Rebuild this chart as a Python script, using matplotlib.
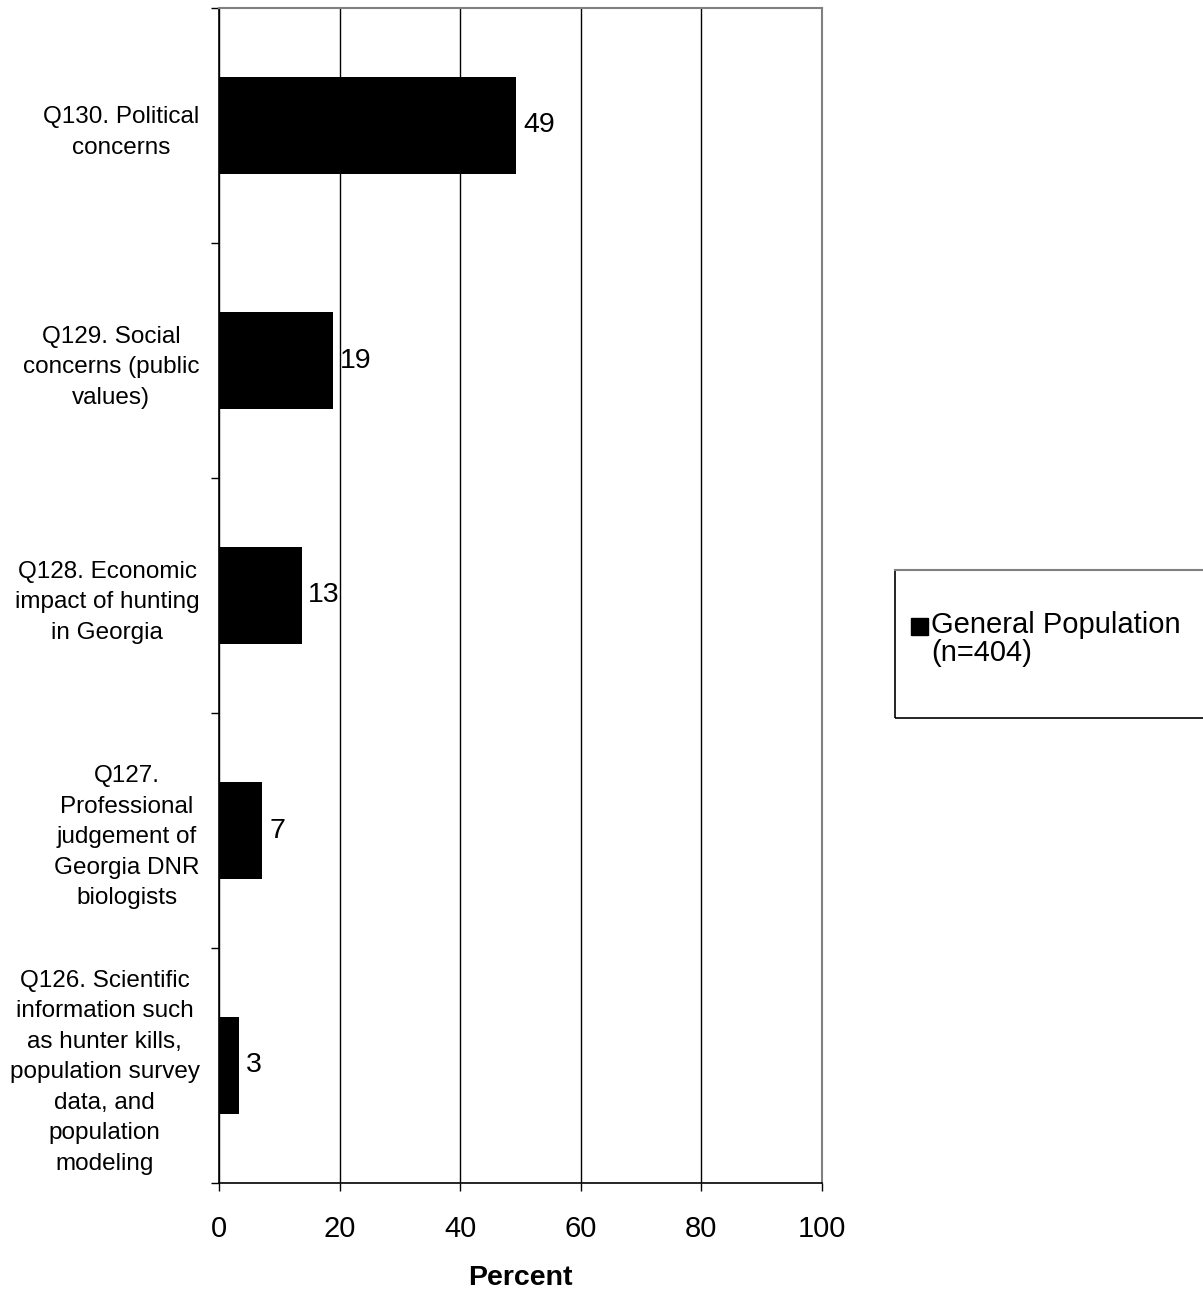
import matplotlib.pyplot as plt
from matplotlib.patches import Rectangle
from matplotlib.lines import Line2D

plt.rcParams['font.family'] = ['Liberation Sans', 'DejaVu Sans']

# Data (bottom to top as drawn)
categories = ['Q126. Scientific\ninformation such\nas hunter kills,\npopulation survey\ndata, and\npopulation\nmodeling',
              'Q127.\nProfessional\njudgement of\nGeorgia DNR\nbiologists',
              'Q128. Economic\nimpact of hunting\nin Georgia',
              'Q129. Social\nconcerns (public\nvalues)',
              'Q130. Political\nconcerns']
values = [3.3, 7.2, 13.7, 18.9, 49.3]
value_labels = ['3', '7', '13', '19', '49']
series_name = 'General Population\n(n=404)'
xticks = [0, 20, 40, 60, 80, 100]

W, H = 1203, 1292
fig = plt.figure(figsize=(W / 100, H / 100), dpi=100)
ax = fig.add_axes([219 / W, 1 - 1183 / H, (822 - 219) / W, (1183 - 8) / H])

pos = list(range(len(categories)))
ax.barh(pos, values, height=0.41, color='black', zorder=3)
for p, v, lab in zip(pos, values, value_labels):
    ax.text(v + 1.1, p, lab, va='center', ha='left', fontsize=20.5, zorder=4)

ax.set_xlim(0, 100)
ax.set_ylim(-0.5, len(categories) - 0.5)
ax.set_xticks(xticks)
ax.set_xticklabels([str(t) for t in xticks], fontsize=21)
ax.tick_params(axis='x', length=6, width=1, pad=17)
ax.set_yticks(pos)
ax.set_yticklabels(categories, fontsize=17.5, linespacing=1.5)
for t in ax.get_yticklabels():
    t.set_multialignment('center')
ax.tick_params(axis='y', length=0, pad=14)
ax.set_yticks([i - 0.5 for i in range(len(categories) + 1)], minor=True)
ax.tick_params(axis='y', which='minor', length=6, width=1)
ax.set_xlabel('Percent', fontsize=20.5, fontweight='bold', labelpad=16)

ax.grid(axis='x', color='black', linewidth=1, zorder=0)
for s in ['top', 'right']:
    ax.spines[s].set_color('#808080')
    ax.spines[s].set_linewidth(1.5)
for s in ['left', 'bottom']:
    ax.spines[s].set_color('black')
    ax.spines[s].set_linewidth(1.2)

# Legend box (drawn by hand so the key sits beside the first line)
fig.patches.append(Rectangle((895 / W, 1 - 718 / H), (W + 20 - 895) / W, 148 / H,
                             transform=fig.transFigure, fill=False, edgecolor='black', linewidth=1.2))
fig.lines.append(Line2D([895 / W, 1], [1 - 570 / H, 1 - 570 / H], transform=fig.transFigure,
                        color='#808080', linewidth=1.5))
fig.patches.append(Rectangle((911 / W, 1 - 635 / H), 17 / W, 17 / H,
                             transform=fig.transFigure, facecolor='black', edgecolor='black'))
fig.text(931 / W, 1 - 611 / H, series_name, fontsize=21, va='top', ha='left', linespacing=1.0)

fig.savefig('out.png', dpi=100)
